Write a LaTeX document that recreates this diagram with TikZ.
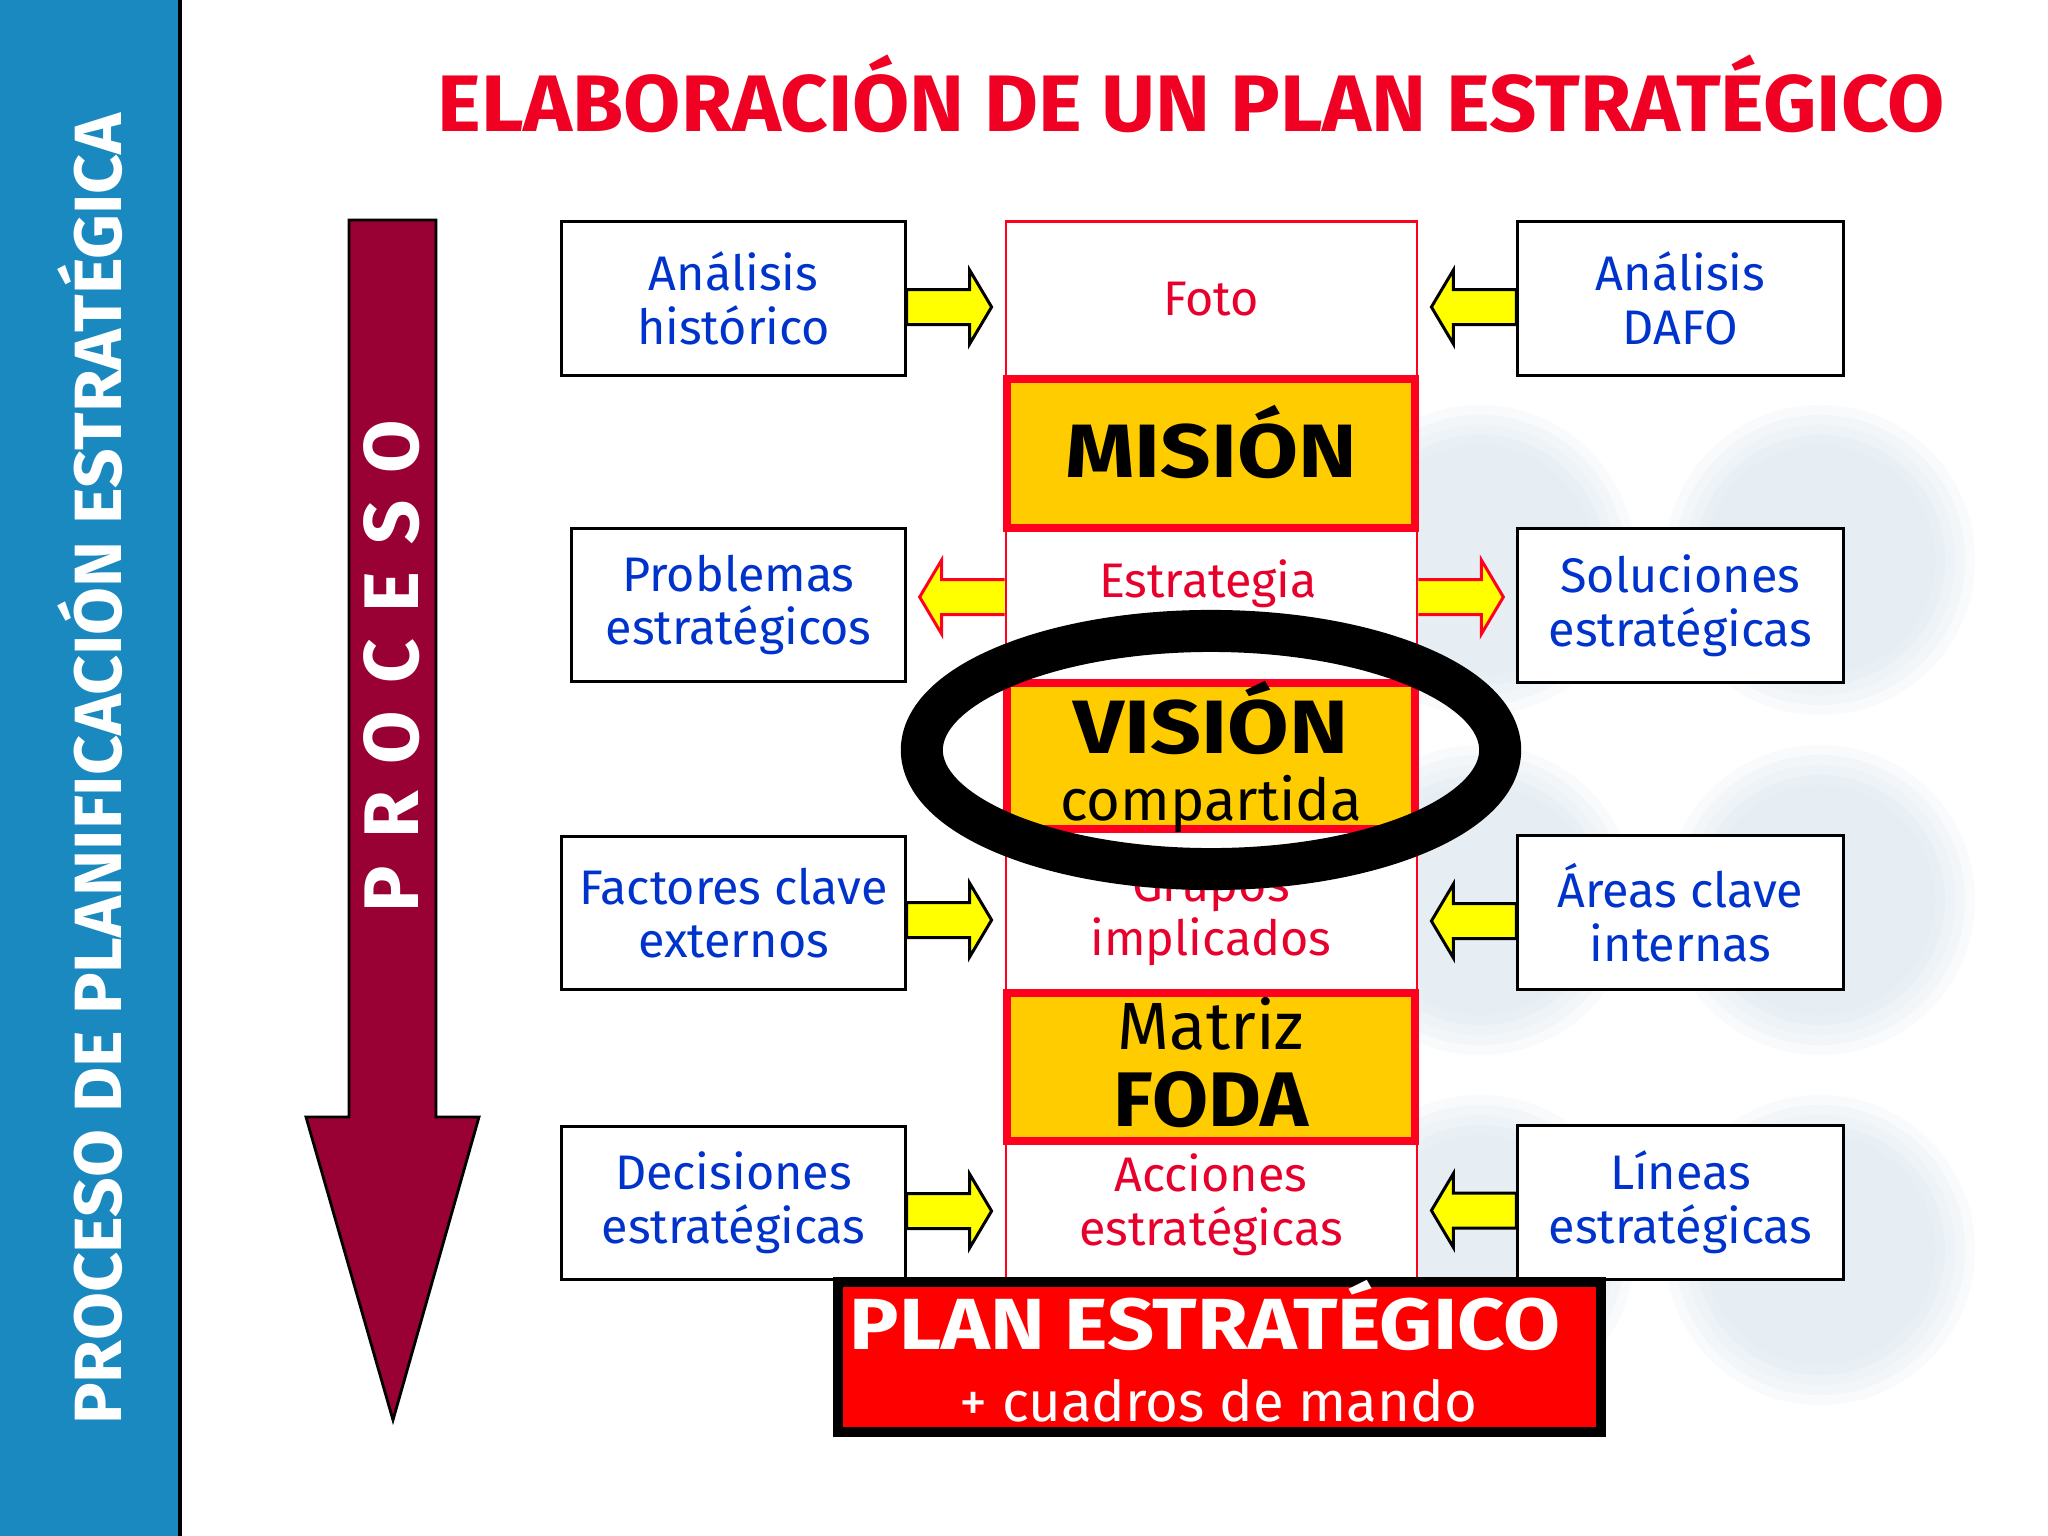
\documentclass[tikz,border=0pt]{standalone}
\usepackage{fontspec}
\setmainfont{Fira Sans}
\usetikzlibrary{calc}
\definecolor{barblue}{RGB}{26,137,191}
\definecolor{maroon}{RGB}{153,0,51}
\definecolor{titlered}{RGB}{240,0,35}
\definecolor{boxblue}{RGB}{0,51,204}
\definecolor{colred}{RGB}{232,0,45}
\definecolor{borderred}{RGB}{255,0,30}
\definecolor{orangefill}{RGB}{255,204,0}
\definecolor{planred}{RGB}{255,0,0}
\definecolor{yel}{RGB}{255,255,0}
\definecolor{wm}{RGB}{214,226,238}
\newcommand{\boxfont}{\fontsize{13.8}{15.3}\selectfont}
\begin{document}
\begin{tikzpicture}[x=0.01cm,y=-0.01cm,
  sidebox/.style={draw=black, line width=0.85pt, fill=white, inner sep=0pt,
    minimum height=1.53cm, align=center, text=boxblue, font=\boxfont},
  coltext/.style={text=colred, align=center, font=\boxfont, inner sep=0pt},
  keybox/.style={draw=borderred, line width=0.08cm, fill=orangefill, inner sep=0pt,
    minimum width=4.07cm},
  keytext/.style={text=black, inner sep=0pt, anchor=base},
  yarrow/.style={fill=yel, draw=black, line width=0.85pt, line join=miter},
  rarrow/.style={fill=yel, draw=borderred, line width=0.85pt, line join=miter}]
\useasboundingbox (0,0) rectangle (2048,1536);
\fill[white] (0,0) rectangle (2048,1536);
% faint watermark
\foreach \cx/\cy in {1480/560, 1820/560, 1480/900, 1820/900, 1480/1250, 1820/1250}{
  \foreach \r in {1.55,1.45,1.35,1.25,1.15}{
    \fill[wm, opacity=0.15] (\cx,\cy) circle [radius=\r cm];
  }
}
% left bar
\fill[barblue] (0,0) rectangle (180,1536);
\draw[black, line width=1pt] (180,0) -- (180,1536);
\node[rotate=90, text=white, inner sep=0pt] (bartext) at (90,769)
  {\fontsize{19}{20}\selectfont\bfseries\scalebox{1.04}[1]{PROCESO DE PLANIFICACIÓN ESTRATÉGICA}};
% title
\node[text=titlered, inner sep=0pt, anchor=base] (title) at (1191,131)
  {\fontsize{22.8}{24}\selectfont\bfseries\scalebox{1.035}[1]{ELABORACIÓN DE UN PLAN ESTRATÉGICO}};
% process arrow
\filldraw[fill=maroon, draw=black, line width=0.8pt, line join=miter]
  (349,220) -- (436,220) -- (436,1117) -- (479,1117) -- (393,1420) -- (306,1117) -- (349,1117) -- cycle;
\node[rotate=90, text=white, inner sep=0pt] (proc) at (392,666)
  {\fontsize{22}{24}\selectfont\bfseries P\hspace{0.27cm}R\hspace{0.27cm}O\hspace{0.27cm}C\hspace{0.27cm}E\hspace{0.27cm}S\hspace{0.27cm}O};
% side boxes
\node[sidebox, minimum width=3.43cm] (hist) at (733.5,298.5) {Análisis\\histórico};
\node[sidebox, minimum width=3.33cm] (prob) at (738.5,605) {Problemas\\estratégicos};
\node[sidebox, minimum width=3.43cm] (fact) at (733.5,913) {Factores clave\\externos};
\node[sidebox, minimum width=3.43cm] (dec) at (733.5,1203) {Decisiones\\estratégicas};
\node[sidebox, minimum width=3.25cm] (dafo) at (1680.5,298.5) {Análisis\\DAFO};
\node[sidebox, minimum width=3.25cm] (sol) at (1680.5,605.5) {Soluciones\\estratégicas};
\node[sidebox, minimum width=3.25cm] (areas) at (1680.5,912.5) {Áreas clave\\internas};
\node[sidebox, minimum width=3.25cm] (lin) at (1680.5,1202.5) {Líneas\\estratégicas};
% central column
\node[draw=borderred, line width=0.7pt, fill=white, inner sep=0pt,
  minimum width=4.11cm, minimum height=10.58cm] (col) at (1211.5,751) {};
\node[coltext, anchor=base] (foto) at (1211,315) {Foto};
\node[coltext, anchor=base] (estr) at (1208,597) {Estrategia};
\node[coltext] (grup) at (1211,917) {Grupos\\implicados};
\node[coltext] (acc) at (1211,1205) {Acciones\\estratégicas};
% key boxes
\node[keybox, minimum height=1.49cm] (mision) at (1211,453.5) {};
\node[keytext] (misiont) at (1211,477) {\fontsize{21.5}{22}\selectfont\bfseries\scalebox{1.17}[1]{MISIÓN}};
\node[keybox, minimum height=1.46cm] (vision) at (1211,756) {};
\node[keytext] (visiont) at (1211,753) {\fontsize{21.5}{22}\selectfont\bfseries\scalebox{1.18}[1]{VISIÓN}};
\node[keytext] (compt) at (1211,820) {\fontsize{16.5}{18}\selectfont compartida};
\node[keybox, minimum height=1.48cm] (foda) at (1211,1067) {};
\node[keytext] (matrizt) at (1211,1049) {\fontsize{19}{20}\selectfont Matriz};
\node[keytext] (fodat) at (1211,1126) {\fontsize{22}{23}\selectfont\bfseries\scalebox{1.05}[1]{FODA}};
% coordinates for strategy arrows
\coordinate (estrL) at (col.west |- 0,597);
\coordinate (estrR) at (col.east |- 0,597);
% yellow arrows, pointing right
\foreach \src/\dy in {hist/8.5, fact/7, dec/8}{
  \draw[yarrow, shift={(\src.east)}, yshift=-\dy*0.01cm]
    (0,-17.5) -- (63,-17.5) -- (63,-37) -- (85,0) -- (63,37) -- (63,17.5) -- (0,17.5) -- cycle;
}
% yellow arrows, pointing left
\foreach \src/\dy in {dafo/8.5, areas/8.5, lin/8}{
  \draw[yarrow, shift={(\src.west)}, yshift=-\dy*0.01cm]
    (0,-17.5) -- (-63,-17.5) -- (-63,-37) -- (-85,0) -- (-63,37) -- (-63,17.5) -- (0,17.5) -- cycle;
}
% strategy arrows (out of the column)
\draw[rarrow, shift={(estrL)}]
  (0,-17.5) -- (-63,-17.5) -- (-63,-37) -- (-85,0) -- (-63,37) -- (-63,17.5) -- (0,17.5);
\draw[rarrow, shift={(estrR)}]
  (0,-17.5) -- (63,-17.5) -- (63,-37) -- (85,0) -- (63,37) -- (63,17.5) -- (0,17.5);
% ellipse
\draw[black, line width=0.42cm] (1211,750) ellipse [x radius=2.89cm, y radius=1.19cm];
% plan box
\node[draw=black, line width=0.1cm, fill=planred, inner sep=0pt,
  minimum width=7.63cm, minimum height=1.5cm] (plan) at (1219.5,1357) {};
\node[keytext, text=white] (plant) at (1205,1349) {\fontsize{20.6}{22}\selectfont\bfseries\scalebox{1.14}[1]{PLAN ESTRATÉGICO}};
\node[keytext, text=white] (cuadt) at (1218,1421) {\fontsize{16}{18}\selectfont + cuadros de mando};
\end{tikzpicture}
\end{document}
